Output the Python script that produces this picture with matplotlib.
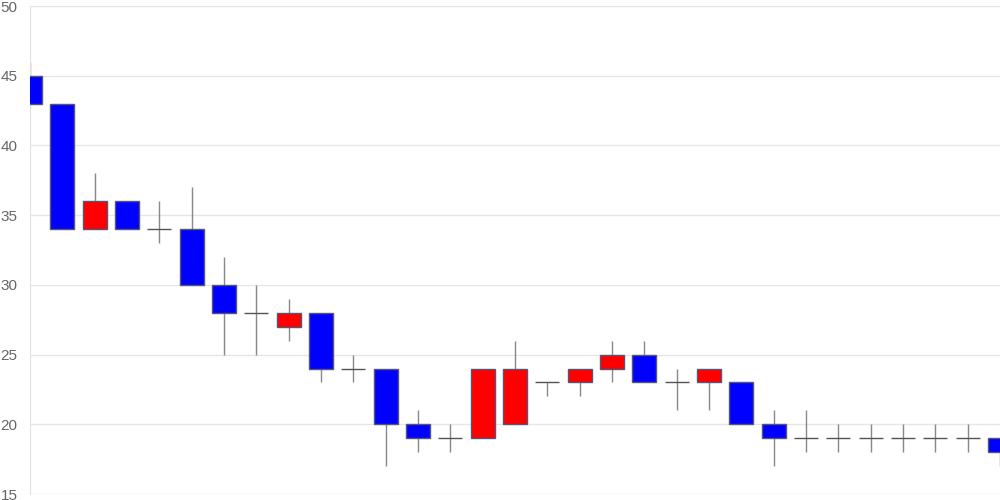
import matplotlib
matplotlib.use("Agg")
import matplotlib.pyplot as plt
import numpy as np
from matplotlib.patches import Rectangle

plt.rcParams["font.family"] = ["Liberation Sans", "DejaVu Sans"]

# daily OHLC values
opens = [45, 43, 34, 36, 34, 34, 30, 28, 27, 28, 24, 24, 20, 19, 19, 20,
         23, 23, 24, 25, 23, 23, 23, 20, 19, 19, 19, 19, 19, 19, 19]
highs = [46, 43, 38, 36, 36, 37, 32, 30, 29, 28, 25, 24, 21, 20, 24, 26,
         23, 24, 26, 26, 24, 24, 23, 21, 21, 20, 20, 20, 20, 20, 19]
lows = [43, 34, 34, 34, 33, 30, 25, 25, 26, 23, 23, 17, 18, 18, 19, 20,
        22, 22, 23, 23, 21, 21, 20, 17, 18, 18, 18, 18, 18, 18, 17]
closes = [43, 34, 36, 34, 34, 30, 28, 28, 28, 24, 24, 20, 19, 19, 24, 24,
          23, 24, 25, 23, 23, 24, 20, 19, 19, 19, 19, 19, 19, 19, 18]
yticks = [15, 20, 25, 30, 35, 40, 45, 50]

fig = plt.figure(figsize=(10, 5), dpi=100)
ax = fig.add_axes([0.03, 0.012, 0.97, 0.976])

w = 0.74
for i, (o, h, l, c) in enumerate(zip(opens, highs, lows, closes)):
    ax.vlines(i, l, h, color="#888888", lw=1, zorder=2)
    if o == c:
        ax.hlines(o, i - w / 2, i + w / 2, color="#555555", lw=1, zorder=3)
        continue
    col = "red" if c > o else "blue"
    ax.add_patch(Rectangle((i - w / 2, min(o, c)), w, abs(c - o),
                           facecolor=col, edgecolor="#555577", lw=1, zorder=3))

ax.set_xlim(0, len(opens) - 1)
ax.set_ylim(15, 50)
ax.set_yticks(yticks)
ax.set_xticks([])
ax.grid(axis="y", color="#e6e6e6", lw=1)
ax.set_axisbelow(True)
for s in ["top", "right", "bottom"]:
    ax.spines[s].set_visible(False)
ax.spines["left"].set_color("#e0e0e0")
ax.tick_params(axis="y", length=0, pad=9, labelsize=11, labelcolor="#666666")

fig.savefig("out.png", dpi=100)
